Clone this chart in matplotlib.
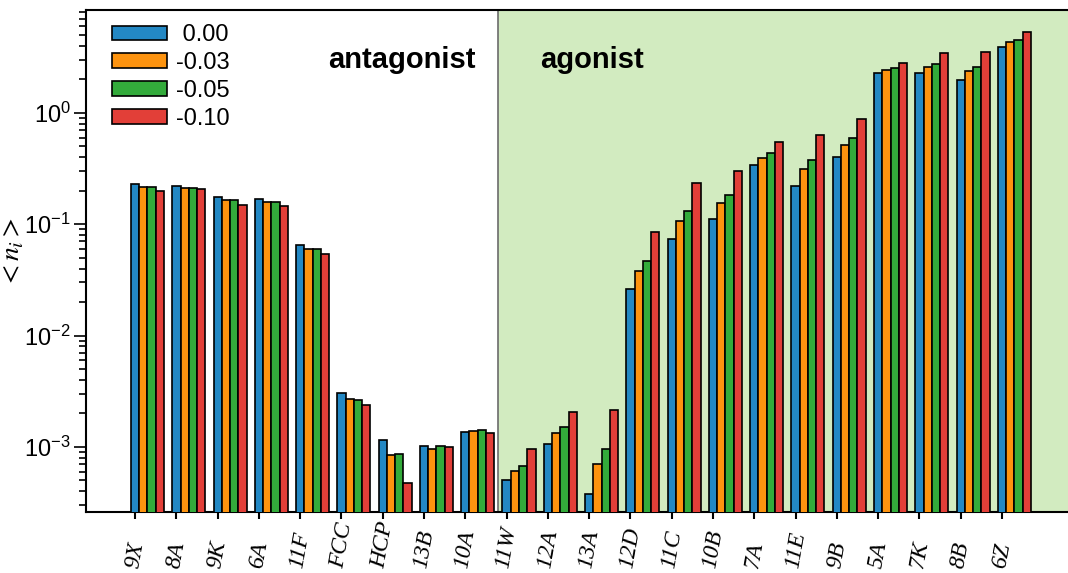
import matplotlib
matplotlib.use("Agg")
import matplotlib.pyplot as plt
import numpy as np

plt.rcParams['font.family'] = ['Liberation Sans', 'DejaVu Sans']
plt.rcParams['mathtext.fontset'] = 'custom'
plt.rcParams['mathtext.rm'] = 'Liberation Sans'
plt.rcParams['mathtext.it'] = 'Liberation Serif:italic'
plt.rcParams['mathtext.default'] = 'regular'

# cluster labels
clusters = ["9X", "8A", "9K", "6A", "11F", "FCC", "HCP", "13B", "10A", "11W", "12A",
            "13A", "12D", "11C", "10B", "7A", "11E", "9B", "5A", "7K", "8B", "6Z"]

series_labels = [" 0.00", "-0.03", "-0.05", "-0.10"]
colors = ["#2388c4", "#fd930f", "#33ab3b", "#e23f38"]

# <n_i> for each cluster, one list per series
n_000 = [0.231, 0.220, 0.177, 0.170, 0.0645, 0.00303, 0.00116, 0.00101, 0.00136, 0.000500, 0.00107,
         0.000375, 0.0260, 0.0739, 0.112, 0.340, 0.220, 0.404, 2.30, 2.26, 1.97, 3.95]
n_003 = [0.214, 0.210, 0.164, 0.160, 0.0601, 0.00267, 0.000843, 0.000948, 0.00139, 0.000607, 0.00132,
         0.000695, 0.0382, 0.107, 0.154, 0.395, 0.311, 0.520, 2.43, 2.56, 2.38, 4.32]
n_005 = [0.214, 0.213, 0.164, 0.157, 0.0601, 0.00266, 0.000867, 0.00102, 0.00142, 0.000671, 0.00151,
         0.000962, 0.0469, 0.132, 0.182, 0.432, 0.374, 0.593, 2.51, 2.75, 2.61, 4.50]
n_010 = [0.199, 0.206, 0.148, 0.145, 0.0535, 0.00238, 0.000477, 0.000994, 0.00133, 0.000953, 0.00206,
         0.00213, 0.0860, 0.234, 0.298, 0.552, 0.638, 0.889, 2.80, 3.44, 3.56, 5.31]

all_series = [n_000, n_003, n_005, n_010]

fig = plt.figure(figsize=(10.68, 5.73), dpi=100)
ax = fig.add_axes([0.0805, 0.1065, 0.9195, 0.876])

x = np.arange(len(clusters))
width = 0.2
bottom = 1e-5
for k, vals in enumerate(all_series):
    vals = np.array(vals)
    ax.bar(x + k * width, vals - bottom, width, bottom=bottom, color=colors[k],
           edgecolor="black", linewidth=1.2, label=series_labels[k], zorder=3)

# agonist region
split = 8.8
ax.axvspan(split, 30, color="#d2ebc0", zorder=0, lw=0)
ax.axvline(split, color="#6b6b6b", lw=1.2, zorder=1)

ax.set_yscale("log")
ax.set_ylim(2.6e-4, 8.4)
ax.set_xlim(-1.19, 22.6)

# labels sit on a common bottom line, like the reference
ax.set_xticks(x)
ax.set_xticklabels(clusters, rotation=80, fontsize=17, va="bottom", ha="center",
                   fontfamily="Liberation Serif", fontstyle="italic")
ax.tick_params(axis="x", length=5, width=1.5, pad=37)
ax.tick_params(axis="y", which="major", length=9, width=1.2, labelsize=17, pad=2)
ax.tick_params(axis="y", which="minor", length=5, width=1.2)

ax.spines["right"].set_visible(False)
for s in ["left", "bottom", "top"]:
    ax.spines[s].set_linewidth(1.5)

ax.set_ylabel(r"$\mathrm{<}\mathit{n}_{\mathit{i}}\mathrm{>}$", fontsize=20,
              math_fontfamily="stix")
ax.yaxis.set_label_coords(-0.061, 0.516)

ax.text(0.322, 0.9, "antagonist", transform=ax.transAxes, fontsize=21,
        fontweight="bold", ha="center", va="center")
ax.text(0.515, 0.9, "agonist", transform=ax.transAxes, fontsize=21,
        fontweight="bold", ha="center", va="center")

ax.legend(loc="upper left", bbox_to_anchor=(0.01, 1.005), frameon=False, fontsize=17,
          handlelength=2.3, handleheight=0.55, handletextpad=0.4, labelspacing=0.25,
          borderaxespad=0.3)

fig.savefig("out.png", dpi=100)
